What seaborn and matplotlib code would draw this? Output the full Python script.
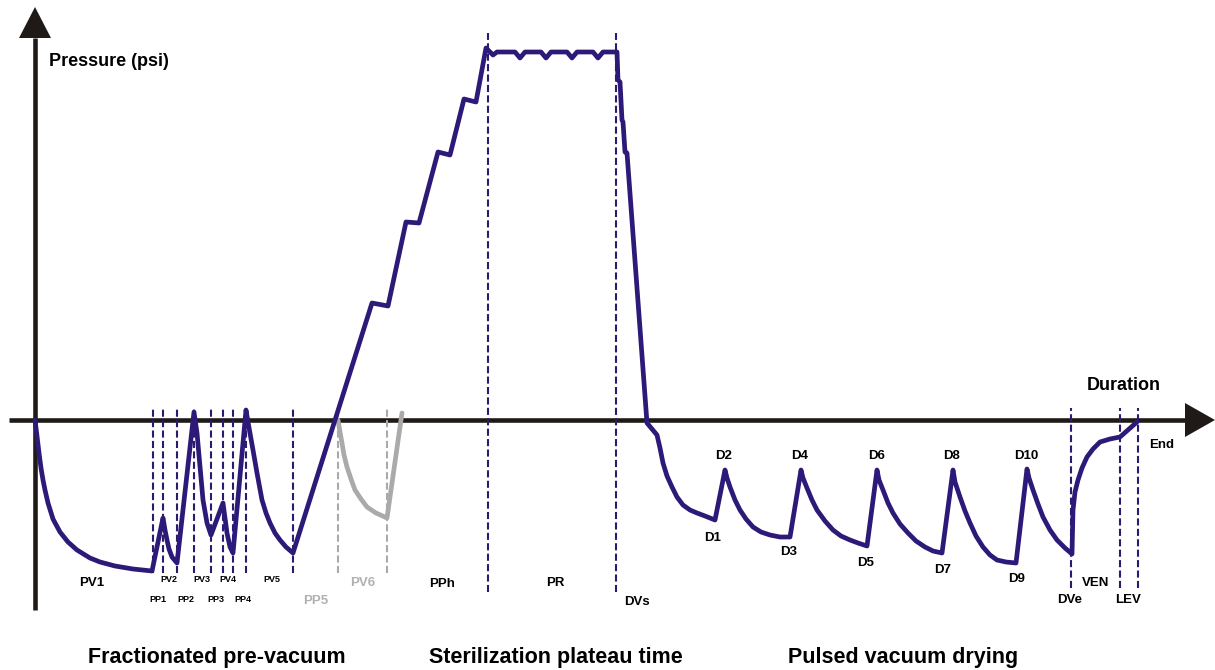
import matplotlib
matplotlib.use("Agg")
import matplotlib.pyplot as plt
import seaborn as sns
import pandas as pd

# pressure trace of the cycle (time / pressure in arbitrary chart units, 0 = atmosphere)
time = [0, 2, 4, 6, 8, 10, 13, 18, 25, 33, 42, 55, 65, 80, 98, 117,
        128, 130, 132, 134, 137, 142,
        159, 162, 165, 168, 172, 176,
        188, 192, 195, 198,
        211, 213, 215, 218, 222, 227, 231, 235, 240, 245, 251, 258,
        337, 353, 371, 384, 403, 415, 429, 441, 451, 458, 462,
        480, 485, 490, 506, 511, 516, 532, 537, 542, 558, 563, 568, 582,
        583, 585, 587, 588, 590, 592, 612, 622,
        625, 628, 632, 637, 642, 648, 655, 662, 670, 680,
        690, 692, 695, 700, 705, 711, 718, 726, 735, 745, 755,
        766, 768, 772, 777, 782, 790, 798, 806, 815, 823, 832,
        842, 844, 848, 853, 858, 865, 873, 881, 890, 898, 907,
        918, 920, 925, 930, 935, 941, 948, 955, 962, 971, 981,
        992, 994, 998, 1003, 1008, 1015, 1022, 1030, 1037,
        1038, 1040, 1043, 1047, 1052, 1058, 1065, 1075, 1085, 1102]
pressure = [0, -16, -33, -48, -60, -70, -83, -99, -112, -122, -130, -138, -142, -146, -149, -151,
            -98, -110, -120, -129, -137, -143,
            8, -13, -47, -80, -103, -115,
            -83, -113, -127, -133,
            10, -2, -13, -30, -53, -80, -93, -103, -113, -120, -127, -133,
            117, 114, 198, 197, 268, 265, 321, 318, 372, 365, 368,
            368, 362, 368, 368, 362, 368, 368, 362, 368, 368, 362, 368, 368,
            340, 338, 300, 298, 268, 267, -3, -15,
            -28, -43, -56, -67, -77, -85, -90, -93, -96, -100,
            -50, -58, -67, -80, -90, -99, -107, -112, -115, -117, -117,
            -50, -58, -68, -80, -90, -101, -110, -116, -120, -123, -126,
            -50, -60, -70, -83, -93, -104, -113, -121, -127, -131, -133,
            -50, -62, -77, -91, -103, -116, -127, -135, -140, -142, -143,
            -49, -58, -70, -84, -97, -110, -120, -128, -134,
            -90, -72, -60, -48, -37, -29, -22, -19, -17, -2]

# optional sixth pulse (grey)
pv6_time = [303, 305, 307, 309, 312, 316, 320, 326, 332, 341, 352, 367]
pv6_pressure = [0, -12, -23, -35, -47, -59, -70, -79, -87, -93, -98, 7]

# phase boundaries
short_marks = [118, 128, 142, 159, 176, 188, 198, 211, 258]
grey_marks = [303, 352]
plateau_marks = [453, 581]
end_marks = [1036, 1085, 1103]

phase_labels = ["PV1", "PV2", "PV3", "PV4", "PV5", "PP1", "PP2", "PP3", "PP4",
                "PP5", "PV6", "PPh", "PR", "DVs",
                "D1", "D2", "D3", "D4", "D5", "D6", "D7", "D8", "D9", "D10",
                "DVe", "VEN", "LEV", "End"]
label_pos = [(57, -163), (134, -160), (167, -160), (193, -160), (237, -160),
             (123, -179), (151, -179), (181, -179), (208, -179),
             (281, -181), (328, -163), (407, -164), (520, -163), (602, -182),
             (678, -118), (689, -36), (754, -132), (765, -36), (831, -143),
             (842, -36), (908, -150), (917, -36), (982, -159), (991, -36),
             (1035, -180), (1061, -163), (1093, -180), (1127, -25)]

stage_names = ["Fractionated pre-vacuum", "Sterilization plateau time", "Pulsed vacuum drying"]
stage_pos = [182, 521, 868]

sns.set_style("white")
plt.rcParams["font.family"] = ["Liberation Sans", "DejaVu Sans"]
plt.rcParams["font.weight"] = "bold"

navy = "#2d1a78"
dash_navy = "#2a1a70"
grey = "#aaaaaa"
axis_col = "#1f1a17"

fig = plt.figure(figsize=(12.15, 6.7), dpi=100)
ax = fig.add_axes([0, 0, 1, 1])

# axes with arrow heads
ax.plot([0, 0], [-190, 382], color=axis_col, lw=3.3, solid_capstyle="butt", zorder=2)
ax.fill([-16, 16, 0], [382, 382, 413], color=axis_col, zorder=2, lw=0)
ax.plot([-26, 1152], [0, 0], color=axis_col, lw=3.3, solid_capstyle="butt", zorder=2)
ax.fill([1150, 1150, 1180], [17, -17, 0], color=axis_col, zorder=2, lw=0)

dash = (0, (3.4, 1.6))
ax.vlines(short_marks, -153, 12, colors=dash_navy, lw=1.5, linestyles=dash, zorder=3)
ax.vlines(grey_marks, -153, 12, colors=grey, lw=1.5, linestyles=dash, zorder=3)
ax.vlines(plateau_marks, -172, 387, colors=dash_navy, lw=1.5, linestyles=dash, zorder=3)
ax.vlines(end_marks, -168, 12, colors=dash_navy, lw=1.5, linestyles=dash, zorder=3)

df = pd.DataFrame({"time": time, "pressure": pressure})
sns.lineplot(data=df, x="time", y="pressure", sort=False, estimator=None,
             color=navy, lw=3.4, ax=ax, zorder=5)
sns.lineplot(x=pv6_time, y=pv6_pressure, sort=False, estimator=None,
             color=grey, lw=3.4, ax=ax, zorder=4)
for ln in ax.lines[-2:]:
    ln.set_solid_joinstyle("round")
    ln.set_solid_capstyle("round")

ax.set_xlim(-35, 1180)
ax.set_ylim(-250, 420)
ax.axis("off")

small = {"PV2", "PV3", "PV4", "PV5", "PP1", "PP2", "PP3", "PP4"}
for lab, (x, y) in zip(phase_labels, label_pos):
    col = "#b0b0b0" if lab in ("PP5", "PV6") else "#000000"
    size = 6.5 if lab in small else 9.5
    ax.text(x, y, lab, ha="center", va="center", fontsize=size,
            fontweight="bold", color=col)

ax.text(14, 358, "Pressure (psi)", ha="left", va="center", fontsize=13,
        fontweight="bold", color="black")
ax.text(1089, 34, "Duration", ha="center", va="center", fontsize=13,
        fontweight="bold", color="black")

for name, x in zip(stage_names, stage_pos):
    ax.text(x, -237, name, ha="center", va="center", fontsize=15.5,
            fontweight="bold", color="black")

fig.savefig("out.png", dpi=100)
